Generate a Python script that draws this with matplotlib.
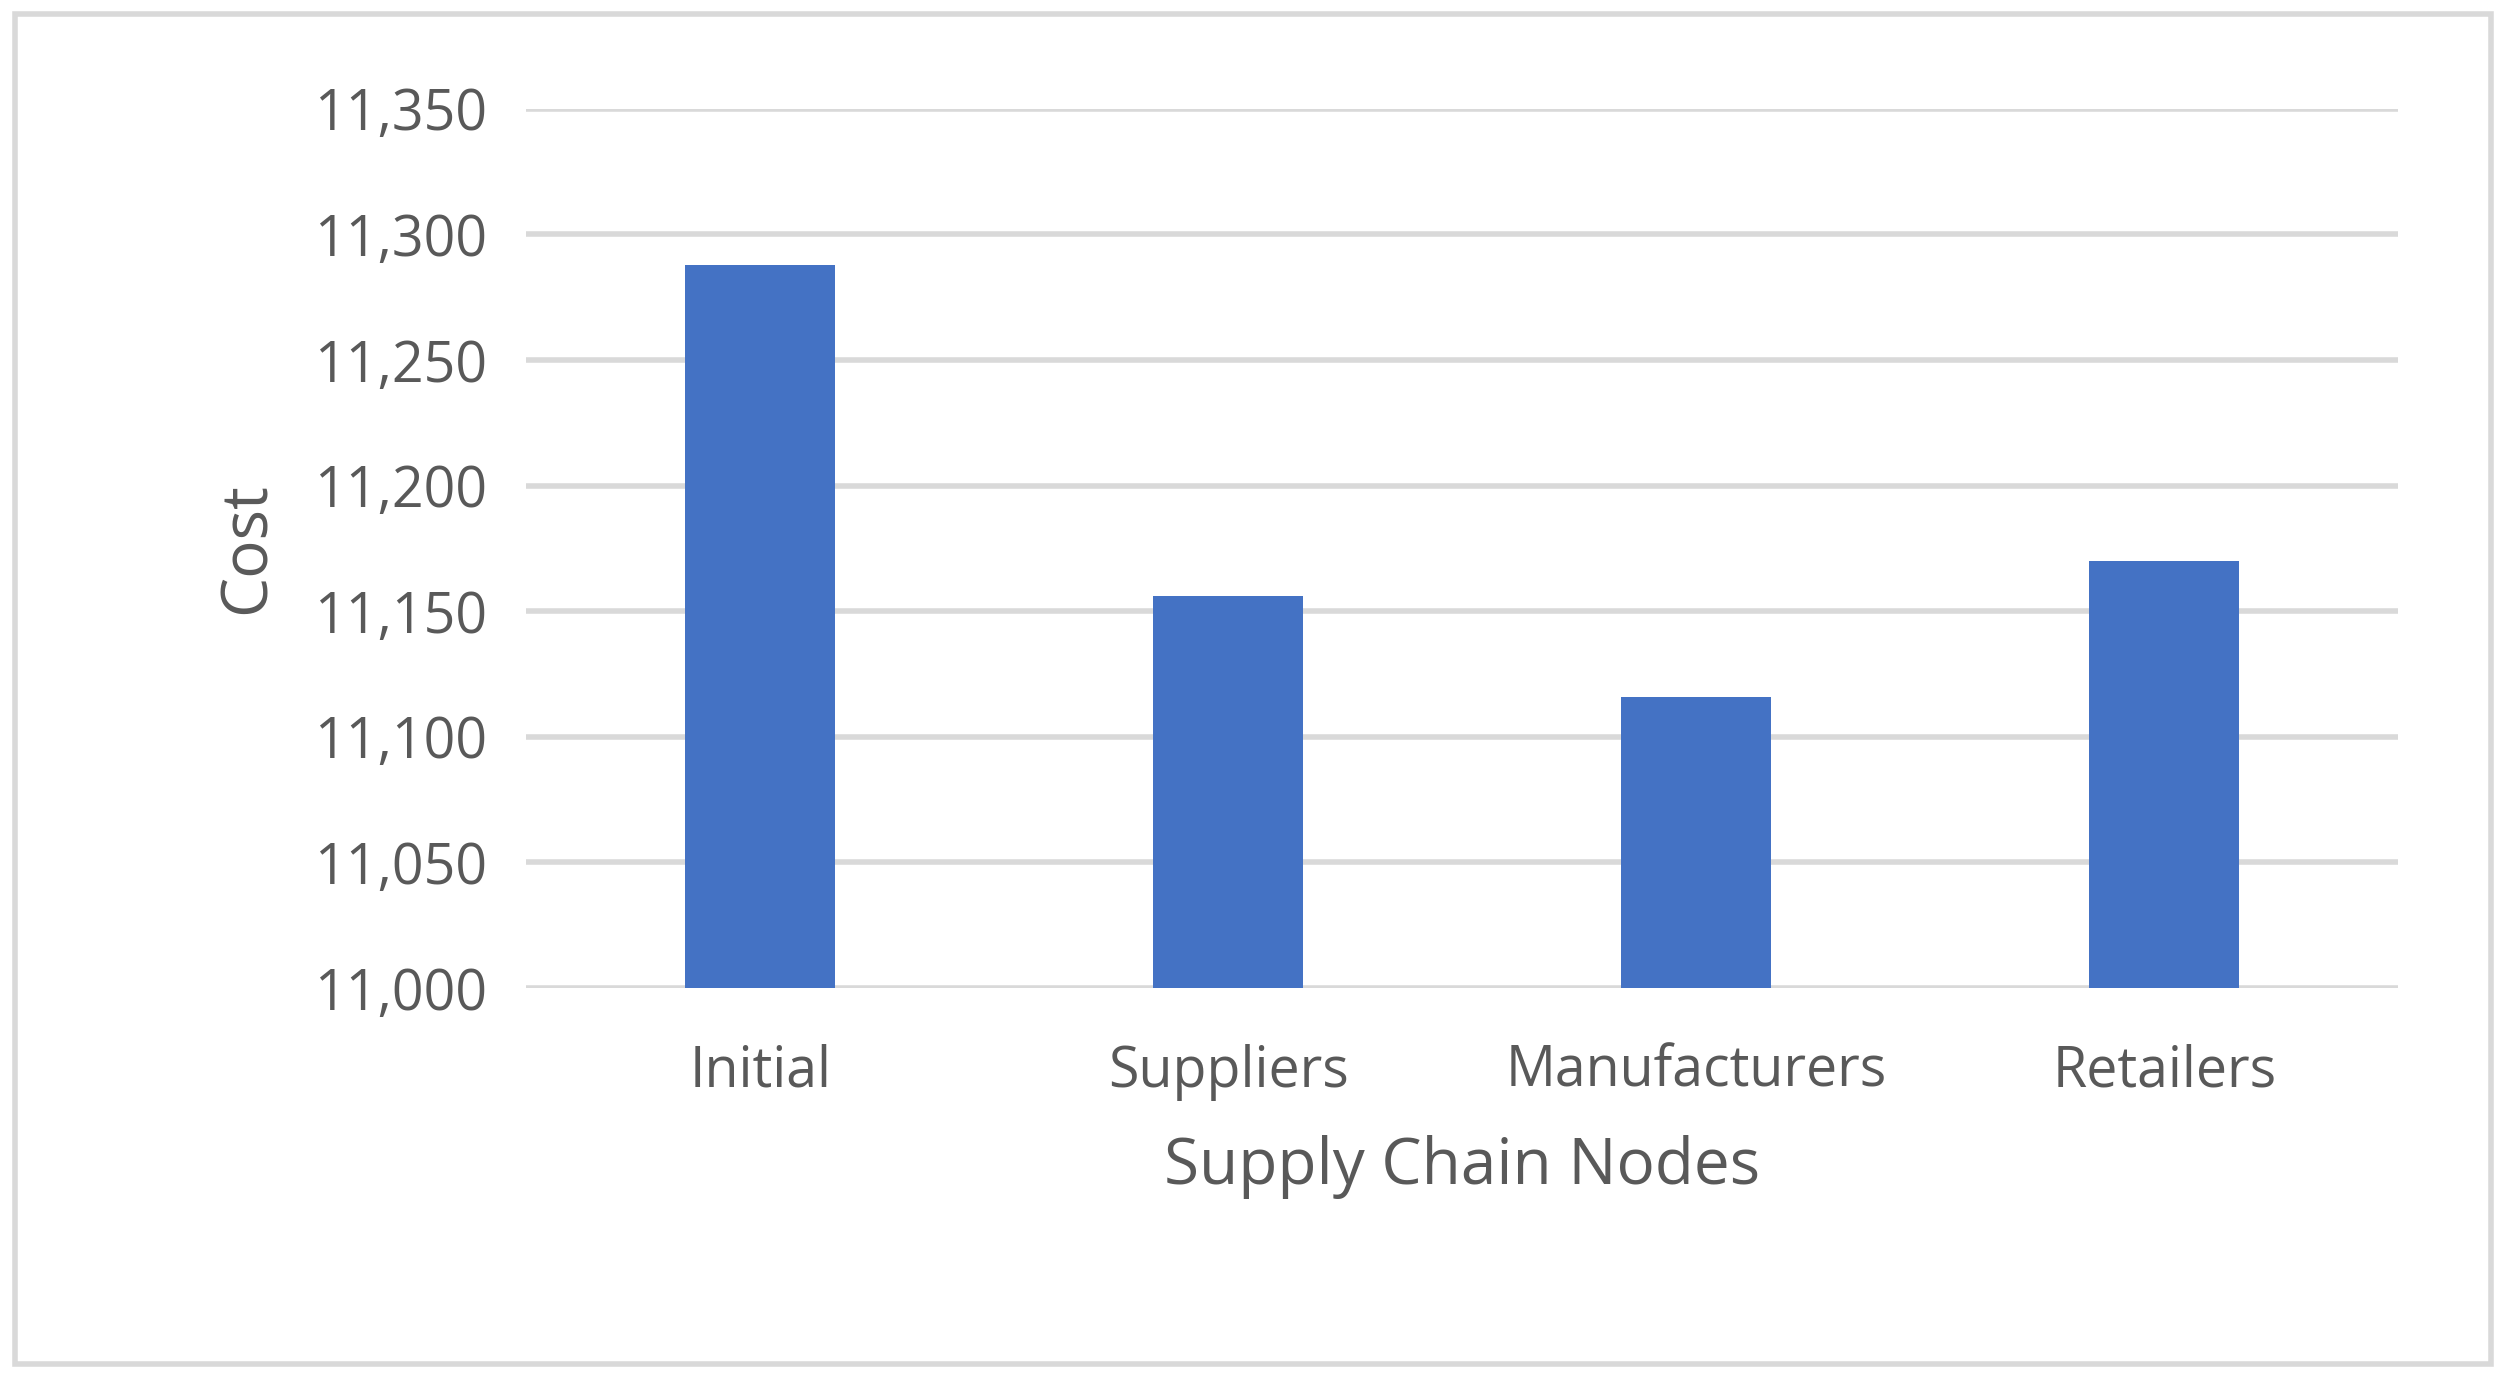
import matplotlib
matplotlib.use("Agg")
import matplotlib.pyplot as plt
from matplotlib.ticker import FuncFormatter
from matplotlib.patches import Rectangle

categories = ["Initial", "Suppliers", "Manufacturers", "Retailers"]
costs = [11288, 11156, 11116, 11170]
yticks = [11000, 11050, 11100, 11150, 11200, 11250, 11300, 11350]

plt.rcParams['font.family'] = ['Open Sans', 'DejaVu Sans']
fig = plt.figure(figsize=(25.06, 13.78), dpi=100)
ax = fig.add_axes([0.21, 0.283, 0.747, 0.638])
ax.bar(range(len(categories)), costs, width=0.32, color="#4472C4", zorder=3)
ax.set_ylim(11000, 11350)
ax.set_xlim(-0.5, 3.5)
ax.set_yticks(yticks)
ax.yaxis.set_major_formatter(FuncFormatter(lambda v, p: f"{int(v):,}"))
ax.set_xticks(range(len(categories)))
ax.set_xticklabels(categories)
ax.grid(axis="y", color="#D9D9D9", linewidth=4, zorder=0)
for s in ax.spines.values():
    s.set_visible(False)
ax.tick_params(length=0, labelsize=40, colors="#595959", pad=28)
ax.tick_params(axis="x", pad=40)
ax.set_xlabel("Supply Chain Nodes", fontsize=46, color="#595959", labelpad=25)
ax.set_ylabel("Cost", fontsize=46, color="#595959", labelpad=25)
fig.patches.append(Rectangle((0.006, 0.01), 0.988, 0.98, transform=fig.transFigure,
                             fill=False, edgecolor="#D9D9D9", linewidth=4))
fig.savefig("out.png", dpi=100, facecolor="white")
